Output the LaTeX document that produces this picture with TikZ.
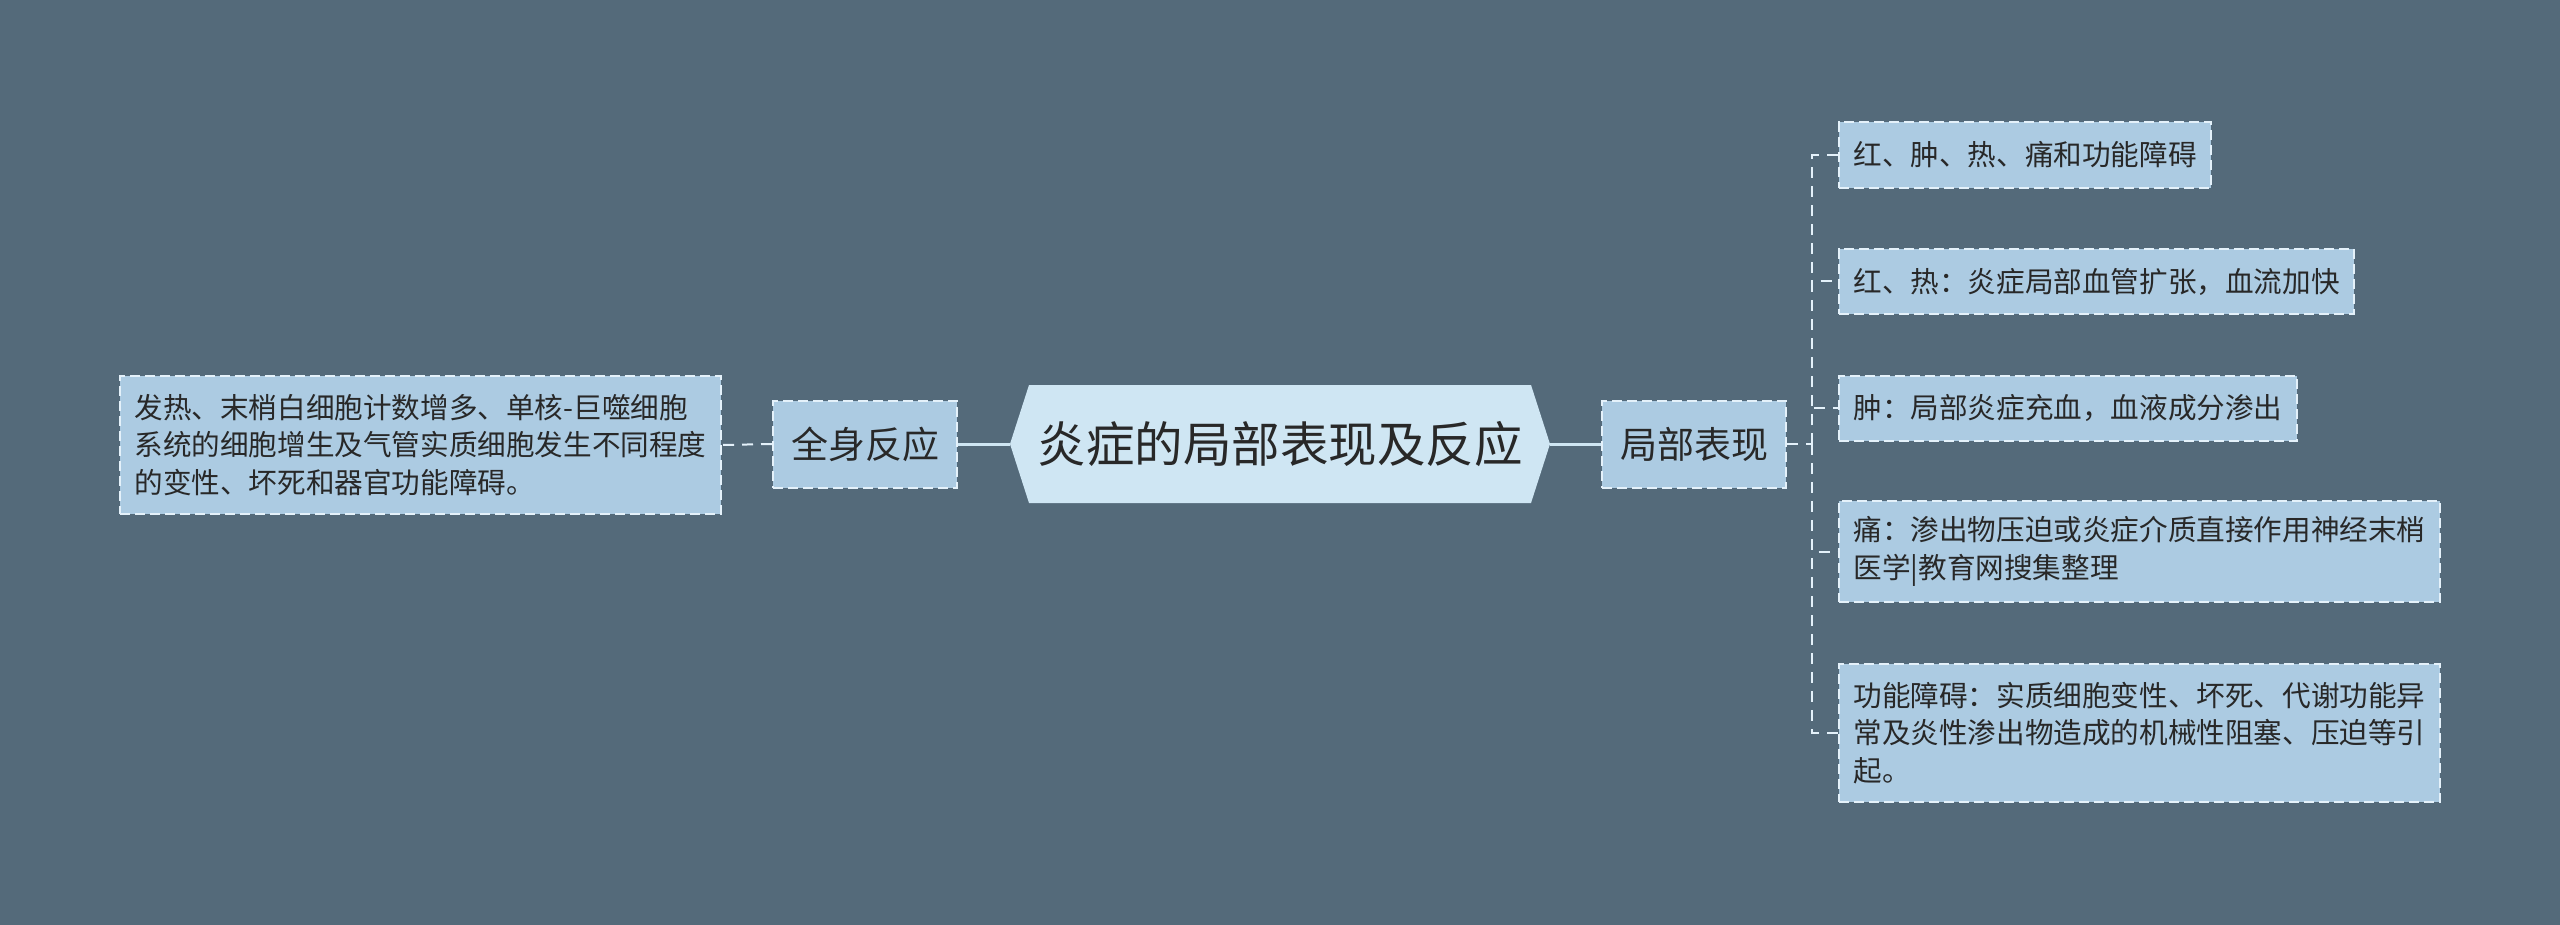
\documentclass[tikz,border=0pt]{standalone}
\usepackage{fontspec}
\setmainfont{Noto Sans CJK SC}
\usepackage{xcolor}
\usepackage{tikz}

\definecolor{bgslate}{RGB}{84,106,122}
\definecolor{hexfill}{RGB}{207,230,243}
\definecolor{boxfill}{RGB}{172,203,226}
\definecolor{boxline}{RGB}{228,241,250}
\definecolor{inktext}{RGB}{40,40,40}

\begin{document}
\begin{tikzpicture}[x=1pt, y=-1pt,
	leaf/.style={draw=boxline, line width=2pt, dash pattern=on 10pt off 5pt, fill=boxfill, text=inktext, inner xsep=14.5pt, inner ysep=0pt, align=left, font=\fontsize{28.6pt}{37.5pt}\selectfont},
	branch/.style={leaf, inner xsep=18pt, minimum height=87pt, font=\fontsize{37pt}{44pt}\selectfont},
	trunk/.style={draw=hexfill, line width=3pt},
	link/.style={draw=boxline, line width=2pt, dash pattern=on 11pt off 8pt}]
							% Define the x of the spine and of the leaves
							\newcommand\SpineX{1812}
							\newcommand\LeafX{1838}
						
							% Draw the background
							\fill[bgslate] (0,0) rectangle (2560,925);
						
							% Draw the hexagon and the root
							\fill[hexfill] (1010,444) -- (1029,385) -- (1531,385) -- (1550,444) -- (1531,503) -- (1029,503) -- cycle;
							\node (root) at (1280,444) [minimum width=540pt, minimum height=118pt, text=inktext, font=\fontsize{48.5pt}{56pt}\selectfont] {炎症的局部表现及反应};
						
							% Draw the two branches
							\node[branch, anchor=east] (whole) at (958,444) {全身反应};
							\node[branch, anchor=west] (local) at (1601,444) {局部表现};
							\draw[trunk] (root.west) -- (whole.east);
							\draw[trunk] (root.east) -- (local.west);
						
							% Left leaf
							\node[leaf, anchor=east, minimum height=138pt] (wholeleaf) at (722,445) {发热、末梢白细胞计数增多、单核-巨噬细胞\\系统的细胞增生及气管实质细胞发生不同程度\\的变性、坏死和器官功能障碍。};
							\draw[link] (whole.west) -- (wholeleaf.east);
						
							% Right leaves on the spine
							\coordinate (spine) at (\SpineX,444);
							\draw[link] (local.east) -- (spine);
							\foreach \y/\h/\txt [count=\i] in {155/66/红、肿、热、痛和功能障碍, 281.5/65/红、热：炎症局部血管扩张，血流加快, 408/65/肿：局部炎症充血，血液成分渗出, 551.5/101/痛：渗出物压迫或炎症介质直接作用神经末梢\\医学|教育网搜集整理, 733/138/功能障碍：实质细胞变性、坏死、代谢功能异\\常及炎性渗出物造成的机械性阻塞、压迫等引\\起。} {
								% Draw a leaf and its stub
								\node[leaf, anchor=west, minimum height=\h pt] (leaf\i) at (\LeafX,\y) {\txt};
								\draw[link] (spine) |- (leaf\i.west);
							}
						\end{tikzpicture}
\end{document}
